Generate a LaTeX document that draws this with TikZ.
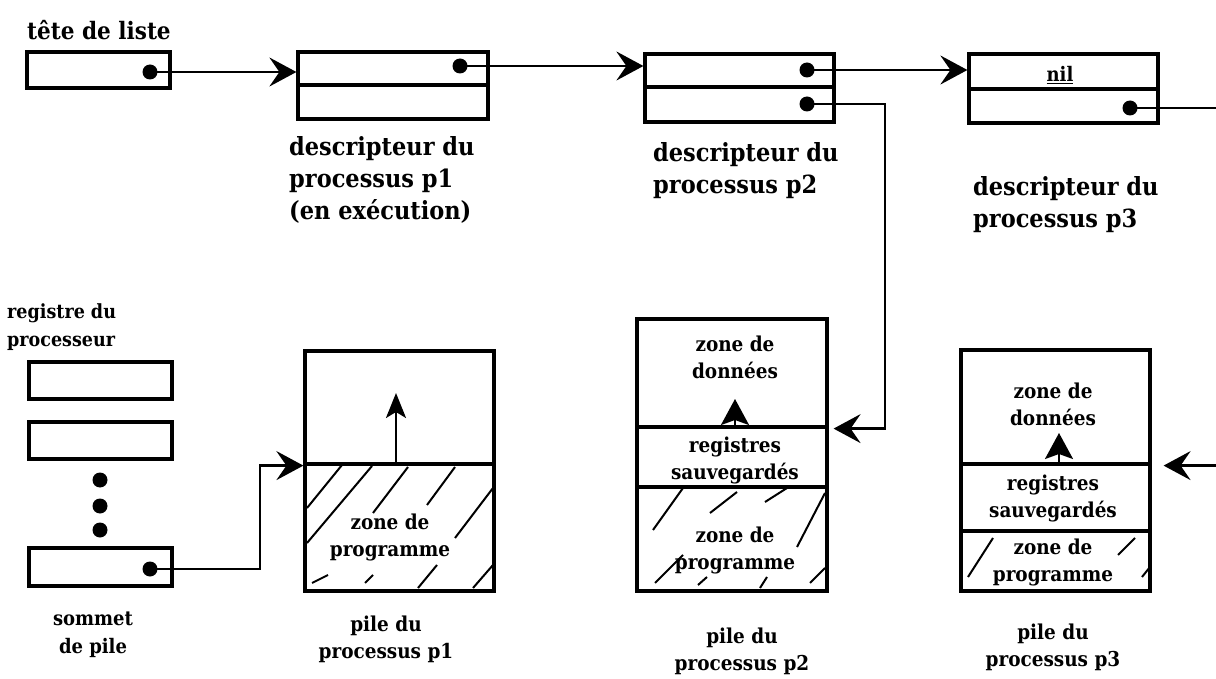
\documentclass[tikz,border=0pt]{standalone}
\usepackage{fontspec}
\setmainfont{DejaVu Serif Condensed Bold}
\usetikzlibrary{arrows.meta}
\begin{document}
\begin{tikzpicture}[x=1pt,y=-1pt,
  box/.style={draw, line width=3.2pt, inner sep=0pt, rectangle},
  divider/.style={line width=3.2pt},
  ptr/.style={circle, fill, inner sep=0pt, minimum size=15pt},
  conn/.style={line width=2.3pt, -{Stealth[length=27pt,width=29pt,inset=10pt]}},
  uparr/.style={line width=2.3pt, -{Stealth[length=25pt,width=20pt,inset=6pt]}},
  upfat/.style={line width=2.3pt, -{Stealth[length=26pt,width=28pt,inset=5pt]}},
  big/.style={font=\fontsize{25}{32}\selectfont, align=left, inner sep=0pt},
  small/.style={font=\fontsize{20.5}{26.5}\selectfont, align=center, inner sep=0pt},
  hatch/.style={line width=2pt},
]
\useasboundingbox (0,0) rectangle (1216,679);

% ---------- descriptor list ----------
\node[big, font=\fontsize{24}{30}\selectfont, anchor=north west] (lhead) at (27,20) {tête de liste};
\node[box, minimum width=143pt, minimum height=36pt] (head) at (98.5,70) {};
\node[ptr] (dh) at (150,72) {};

\node[box, minimum width=190pt, minimum height=67pt] (d1) at (393,85.5) {};
\draw[divider] (d1.west |- 0,85) -- (d1.east |- 0,85);
\node[ptr] (dp1) at (460,66) {};

\node[box, minimum width=189pt, minimum height=68pt] (d2) at (739.5,88) {};
\draw[divider] (d2.west |- 0,87) -- (d2.east |- 0,87);
\node[ptr] (dp2a) at (807,70) {};
\node[ptr] (dp2b) at (807,104) {};

\node[box, minimum width=189pt, minimum height=69pt] (d3) at (1063.5,88.5) {};
\draw[divider] (d3.west |- 0,89) -- (d3.east |- 0,89);
\node[font=\fontsize{20}{22}\selectfont, inner sep=0pt, anchor=base] (nil) at (1060,82) {\underline{nil}};
\node[ptr] (dp3) at (1130,108) {};

\node[big, anchor=north west] (l1) at (289,136) {descripteur du\\processus p1\\(en exécution)};
\node[big, anchor=north west] (l2) at (653,142) {descripteur du\\processus p2};
\node[big, anchor=north west] (l3) at (973,176) {descripteur du\\processus p3};

\draw[conn] (dh.center) -- (d1.west |- dh.center);
\draw[conn] (dp1.center) -- (d2.west |- dp1.center);
\draw[conn] (dp2a.center) -- (d3.west |- dp2a.center);

% ---------- processor registers ----------
\node[small, font=\fontsize{19.5}{28}\selectfont, align=left, anchor=north west] (lreg) at (7,303) {registre du\\processeur};
\node[box, minimum width=143pt, minimum height=37pt] (r1) at (100.5,380.5) {};
\node[box, minimum width=143pt, minimum height=37pt] (r2) at (100.5,440.5) {};
\node[ptr] (e1) at (100,480) {};
\node[ptr] (e2) at (100,506) {};
\node[ptr] (e3) at (100,530) {};
\node[box, minimum width=143pt, minimum height=38pt] (r3) at (100.5,567) {};
\node[ptr] (sp) at (150,569) {};
\node[small, font=\fontsize{20}{28}\selectfont, anchor=north] (lsp) at (93,612) {sommet\\de pile};

% ---------- stack p1 ----------
\node[box, minimum width=189pt, minimum height=113pt] (s1a) at (399.5,407.5) {};
\node[box, minimum width=189pt, minimum height=127pt] (s1b) at (399.5,527.5) {};
\node[small, anchor=north] (t1b) at (390,514) {zone de\\programme};
\node[small, anchor=north] (ls1) at (386,616) {pile du\\processus p1};
\coordinate (u1) at (396,393);
\draw[uparr] (s1a.south -| u1) -- (u1);
\draw[hatch] (307,508) -- (342,465) (307,543) -- (372,466) (373,513) -- (408,467)
  (427,505) -- (455,467) (455,538) -- (493,488)
  (312,583) -- (328,575) (365,583) -- (373,575) (418,588) -- (437,565) (473,588) -- (493,565);

% ---------- stack p2 ----------
\node[box, minimum width=190pt, minimum height=108pt] (s2a) at (732,373) {};
\node[box, minimum width=190pt, minimum height=60pt] (s2b) at (732,457) {};
\node[box, minimum width=190pt, minimum height=104pt] (s2c) at (732,539) {};
\node[small, anchor=north] (t2a) at (735,336) {zone de\\données};
\node[small, anchor=north] (t2b) at (735,437) {registres\\sauvegardés};
\node[small, anchor=north] (t2c) at (735,527) {zone de\\programme};
\node[small, anchor=north] (ls2) at (742,628) {pile du\\processus p2};
\coordinate (u2) at (735,399);
\draw[upfat] (s2a.south -| u2) -- (u2);
\draw[hatch] (653,530) -- (683,488) (710,513) -- (737,492) (765,502) -- (787,488)
  (797,547) -- (825,493) (655,583) -- (683,555) (698,585) -- (707,577)
  (760,588) -- (767,577) (810,583) -- (825,568);

% ---------- stack p3 ----------
\node[box, minimum width=189pt, minimum height=114pt] (s3a) at (1055.5,407) {};
\node[box, minimum width=189pt, minimum height=67pt] (s3b) at (1055.5,497.5) {};
\node[box, minimum width=189pt, minimum height=60pt] (s3c) at (1055.5,561) {};
\node[small, anchor=north] (t3a) at (1053,383) {zone de\\données};
\node[small, anchor=north] (t3b) at (1053,475) {registres\\sauvegardés};
\node[small, anchor=north] (t3c) at (1053,539) {zone de\\programme};
\node[small, anchor=north] (ls3) at (1053,624) {pile du\\processus p3};
\coordinate (u3) at (1059,433);
\draw[upfat] (s3a.south -| u3) -- (u3);
\draw[hatch] (968,577) -- (993,538) (1118,555) -- (1135,538) (1142,577) -- (1150,567);

% ---------- connectors to stacks ----------
\coordinate (k1) at (260,0);
\draw[conn] (sp.center) -- (k1 |- sp.center) -- (k1 |- s1a.south west) -- (s1a.south west);
\coordinate (k2) at (885,0);
\draw[conn, shorten >=5pt] (dp2b.center) -- (k2 |- dp2b.center) -- (k2 |- s2a.south east) -- (s2a.south east);
\coordinate (k3) at (1240,0);
\draw[conn, shorten >=12pt] (dp3.center) -- (k3 |- dp3.center) -- (k3 |- s3a.south east) -- (s3a.south east);
\end{tikzpicture}
\end{document}
